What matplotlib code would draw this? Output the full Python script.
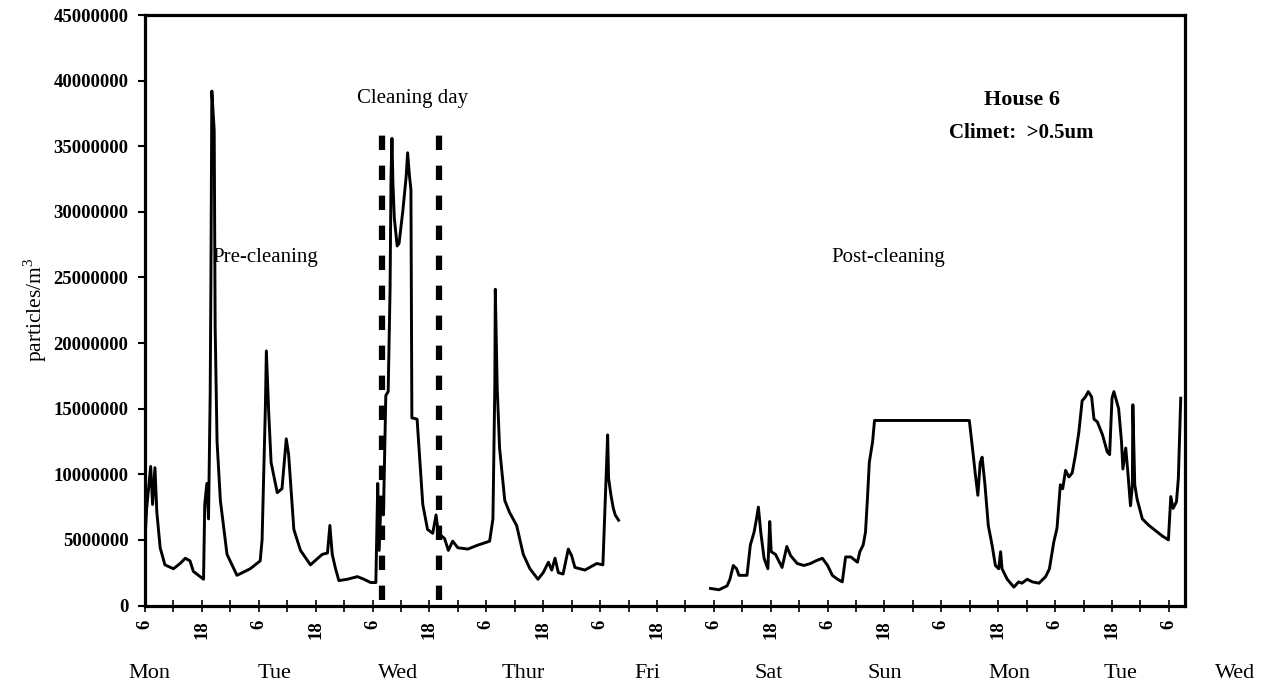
import numpy as np
import matplotlib
matplotlib.use("Agg")
import matplotlib.pyplot as plt

# ---------------- data (hours from Monday 00:00, particles in millions/m3) ----
pre_hours = [6.0, 6.35, 7.2, 7.6, 8.1, 8.5, 9.2, 10.2, 12.0, 13.4, 14.5, 15.5, 16.2,
             18.35, 18.6, 19.05, 19.4, 19.75, 19.9, 20.1, 20.6, 20.8, 21.2, 21.9,
             23.3, 25.4, 28.2, 30.3, 30.7, 31.4, 31.6, 32.1, 32.6, 33.9, 34.9, 35.8,
             36.3, 37.4, 38.8, 40.9, 43.4, 44.5, 45.0, 45.5, 46.2, 46.9, 48.7, 50.8,
             52.2, 53.6, 54.7, 55.1, 55.4, 55.8, 56.3, 56.8, 57.3, 57.7, 57.9, 58.1,
             58.3, 58.6, 59.2, 59.6, 60.4, 61.1, 61.4, 61.8, 62.1, 62.3, 63.4, 63.9,
             64.6, 65.6, 66.7, 67.4, 67.9, 69.2, 70.0, 70.9, 72.0, 74.1, 76.2, 78.7,
             79.4, 79.8, 79.9, 80.3, 80.8, 81.9, 82.9, 84.4, 85.8, 87.2, 88.9, 90.0,
             91.1, 91.8, 92.5, 93.2, 94.2, 95.3, 96.0, 96.7, 98.8, 101.3, 102.6,
             103.1, 103.6, 103.8, 104.3, 104.8, 105.2, 105.9]
pre_values = [5.0, 7.4, 10.6, 7.7, 10.5, 7.1, 4.4, 3.1, 2.8, 3.2, 3.6, 3.4, 2.6,
              2.0, 7.7, 9.3, 6.6, 16.0, 24.4, 39.2, 36.2, 21.2, 12.5, 8.0,
              3.9, 2.3, 2.8, 3.4, 5.0, 15.2, 19.4, 14.7, 10.9, 8.6, 8.9, 12.7,
              11.5, 5.8, 4.2, 3.1, 3.9, 4.0, 6.1, 3.9, 2.8, 1.9, 2.0, 2.2,
              2.0, 1.75, 1.75, 9.3, 4.2, 8.2, 6.9, 16.0, 16.3, 24.1, 32.7, 35.6,
              32.2, 29.5, 27.4, 27.6, 30.1, 32.7, 34.5, 32.7, 31.7, 14.3, 14.2, 11.5,
              7.7, 5.8, 5.5, 6.9, 5.5, 5.1, 4.2, 4.9, 4.4, 4.3, 4.6, 4.9,
              6.6, 16.8, 24.1, 16.6, 12.0, 8.0, 7.1, 6.1, 3.9, 2.8, 2.0, 2.5,
              3.3, 2.7, 3.6, 2.5, 2.4, 4.3, 3.8, 2.9, 2.7, 3.2, 3.1,
              8.1, 13.0, 9.7, 8.4, 7.4, 6.9, 6.5]

post_hours = [125.3, 127.1, 128.8, 129.4, 130.1, 130.8, 131.3, 133.0, 133.7, 134.5,
              135.0, 135.4, 135.9, 136.6, 137.4, 137.8, 138.1, 139.0, 140.4, 141.4,
              142.2, 143.6, 145.0, 146.4, 147.5, 148.9, 150.0, 151.0, 152.1, 153.1,
              153.8, 154.9, 156.3, 156.8, 157.5, 158.0, 158.4, 158.8, 159.5, 159.9,
              179.9, 180.5, 181.2, 181.7, 182.2, 182.6, 183.2, 183.9, 184.7, 185.4,
              186.1, 186.5, 186.8, 187.9, 189.3, 190.3, 191.0, 192.1, 193.2, 194.6,
              196.0, 196.8, 197.7, 198.4, 199.1, 199.6, 200.2, 200.9, 201.6, 202.3,
              203.0, 203.7, 204.4, 205.0, 205.7, 206.2, 206.9, 208.0, 209.0, 209.5,
              210.0, 210.4, 211.4, 212.0, 212.3, 212.9, 213.4, 213.9, 214.3, 214.4,
              214.8, 215.3, 216.4, 217.8, 219.2, 220.6, 221.9, 222.4, 222.9, 223.6,
              224.0, 224.5]
post_values = [1.3, 1.2, 1.5, 2.0, 3.05, 2.8, 2.3, 2.3, 4.6, 5.6,
               6.6, 7.5, 5.6, 3.6, 2.8, 6.4, 4.1, 3.9, 2.9, 4.5,
               3.8, 3.2, 3.05, 3.2, 3.4, 3.6, 3.05, 2.3, 2.0, 1.8,
               3.7, 3.7, 3.3, 4.1, 4.6, 5.6, 8.1, 10.9, 12.5, 14.1,
               14.1, 12.2, 9.9, 8.4, 10.9, 11.3, 9.2, 6.1, 4.6, 3.05,
               2.8, 4.1, 2.8, 2.0, 1.4, 1.8, 1.7, 2.0, 1.8, 1.7,
               2.2, 2.8, 4.8, 5.9, 9.2, 8.9, 10.3, 9.8, 10.1, 11.5,
               13.2, 15.6, 15.9, 16.3, 15.9, 14.2, 14.0, 13.0, 11.7, 11.5,
               15.8, 16.3, 15.0, 12.5, 10.4, 12.0, 9.9, 7.6, 9.2, 15.3,
               9.2, 8.1, 6.6, 6.1, 5.7, 5.3, 5.0, 8.3, 7.4, 7.9,
               9.7, 15.8]

cleaning_start_h = 56.1
cleaning_end_h = 68.1
cleaning_top = 36.7  # millions

y_ticks = [0, 5000000, 10000000, 15000000, 20000000, 25000000, 30000000,
           35000000, 40000000, 45000000]
x_tick_hours = list(range(6, 226, 6))
day_labels = ["Mon", "Tue", "Wed", "Thur", "Fri", "Sat", "Sun", "Mon", "Tue", "Wed"]

# ---------------- layout ------------------------------------------------------
W, H = 1264, 689
day_label_px = [149, 274, 398, 523, 647, 769, 885, 1009, 1120, 1235]

plt.rcParams['font.family'] = ['Liberation Serif', 'DejaVu Serif']
plt.rcParams['mathtext.fontset'] = 'custom'
plt.rcParams['mathtext.rm'] = 'Liberation Serif'
fig = plt.figure(figsize=(W / 100, H / 100), dpi=100)
ax = fig.add_axes([145 / W, 1 - 605.5 / H, 1040 / W, 590.5 / H])

x = np.array(pre_hours + [np.nan] + post_hours)
y = np.array(pre_values + [np.nan] + post_values) * 1e6
ax.plot(x, y, color='black', lw=2.1, solid_joinstyle='round')

for h in (cleaning_start_h, cleaning_end_h):
    ax.plot([h, h], [0.4e6, cleaning_top * 1e6], color='black', lw=4.5,
            linestyle=(0, (2.3, 2.5)), dash_capstyle='butt')

ax.set_xlim(6, 225.4)
ax.set_ylim(0, 45000000)

ax.set_yticks(y_ticks)
ax.set_yticklabels([str(v) for v in y_ticks], fontsize=13.5, fontweight='bold')
ax.set_xticks(x_tick_hours)
xl = []
for h in x_tick_hours:
    if h % 24 == 6:
        xl.append("6")
    elif h % 24 == 18:
        xl.append("18")
    else:
        xl.append("")
ax.set_xticklabels(xl, rotation=90, fontsize=13.5, fontweight='bold')
ax.tick_params(axis='x', direction='inout', length=9, width=1.2, pad=6)
ax.tick_params(axis='y', direction='out', length=5, width=1.5, pad=7)

for s in ax.spines.values():
    s.set_linewidth(2.3)
    s.set_color('black')

ax.text(0.257, 0.858, "Cleaning day", transform=ax.transAxes, ha='center',
        va='center', fontsize=15)
ax.text(0.116, 0.590, "Pre-cleaning", transform=ax.transAxes, ha='center',
        va='center', fontsize=15)
ax.text(0.715, 0.590, "Post-cleaning", transform=ax.transAxes, ha='center',
        va='center', fontsize=15)
ax.text(0.843, 0.856, "House 6", transform=ax.transAxes, ha='center',
        va='center', fontsize=16, fontweight='bold')
ax.text(0.843, 0.800, "Climet:  >0.5um", transform=ax.transAxes, ha='center',
        va='center', fontsize=15, fontweight='bold')

fig.text(35 / W, 1 - 310 / H, "particles/m$^{3}$", rotation=90, ha='center',
         va='center', fontsize=15.5)

for lab, px in zip(day_labels, day_label_px):
    fig.text(px / W, 1 - 673 / H, lab, ha='center', va='center', fontsize=16)

fig.savefig("out.png", dpi=100)
